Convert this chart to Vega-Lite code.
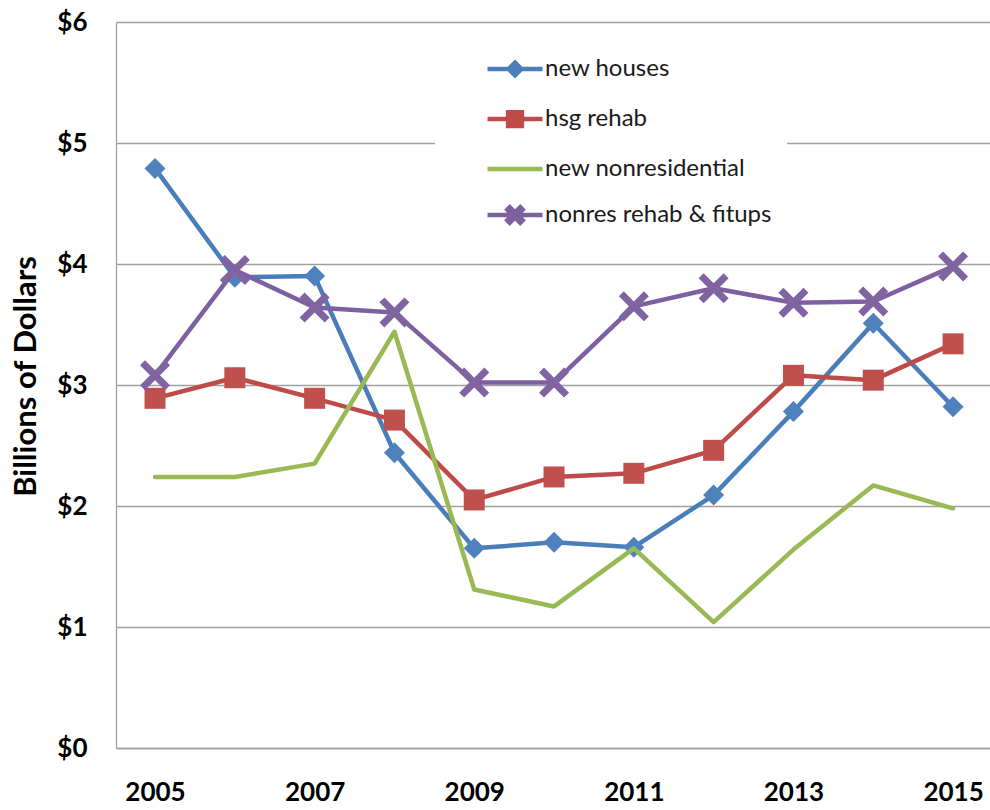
{
  "$schema": "https://vega.github.io/schema/vega-lite/v6.json",
  "width": 874,
  "height": 726,
  "autosize": {"type": "none"},
  "padding": {"left": 116, "top": 22, "right": 0, "bottom": 62},
  "background": "white",
  "config": {"view": {"stroke": null}, "font": "Lato"},
  "data": {
    "values": [
      {"year": 2005, "series": "new houses", "value": 4.79},
      {"year": 2006, "series": "new houses", "value": 3.89},
      {"year": 2007, "series": "new houses", "value": 3.90},
      {"year": 2008, "series": "new houses", "value": 2.44},
      {"year": 2009, "series": "new houses", "value": 1.65},
      {"year": 2010, "series": "new houses", "value": 1.70},
      {"year": 2011, "series": "new houses", "value": 1.66},
      {"year": 2012, "series": "new houses", "value": 2.09},
      {"year": 2013, "series": "new houses", "value": 2.78},
      {"year": 2014, "series": "new houses", "value": 3.51},
      {"year": 2015, "series": "new houses", "value": 2.82},
      {"year": 2005, "series": "hsg rehab", "value": 2.89},
      {"year": 2006, "series": "hsg rehab", "value": 3.06},
      {"year": 2007, "series": "hsg rehab", "value": 2.89},
      {"year": 2008, "series": "hsg rehab", "value": 2.71},
      {"year": 2009, "series": "hsg rehab", "value": 2.05},
      {"year": 2010, "series": "hsg rehab", "value": 2.24},
      {"year": 2011, "series": "hsg rehab", "value": 2.27},
      {"year": 2012, "series": "hsg rehab", "value": 2.46},
      {"year": 2013, "series": "hsg rehab", "value": 3.08},
      {"year": 2014, "series": "hsg rehab", "value": 3.04},
      {"year": 2015, "series": "hsg rehab", "value": 3.34},
      {"year": 2005, "series": "new nonresidential", "value": 2.24},
      {"year": 2006, "series": "new nonresidential", "value": 2.24},
      {"year": 2007, "series": "new nonresidential", "value": 2.35},
      {"year": 2008, "series": "new nonresidential", "value": 3.44},
      {"year": 2009, "series": "new nonresidential", "value": 1.31},
      {"year": 2010, "series": "new nonresidential", "value": 1.17},
      {"year": 2011, "series": "new nonresidential", "value": 1.65},
      {"year": 2012, "series": "new nonresidential", "value": 1.04},
      {"year": 2013, "series": "new nonresidential", "value": 1.64},
      {"year": 2014, "series": "new nonresidential", "value": 2.17},
      {"year": 2015, "series": "new nonresidential", "value": 1.98},
      {"year": 2005, "series": "nonres rehab & fitups", "value": 3.08},
      {"year": 2006, "series": "nonres rehab & fitups", "value": 3.95},
      {"year": 2007, "series": "nonres rehab & fitups", "value": 3.64},
      {"year": 2008, "series": "nonres rehab & fitups", "value": 3.60},
      {"year": 2009, "series": "nonres rehab & fitups", "value": 3.02},
      {"year": 2010, "series": "nonres rehab & fitups", "value": 3.02},
      {"year": 2011, "series": "nonres rehab & fitups", "value": 3.65},
      {"year": 2012, "series": "nonres rehab & fitups", "value": 3.80},
      {"year": 2013, "series": "nonres rehab & fitups", "value": 3.68},
      {"year": 2014, "series": "nonres rehab & fitups", "value": 3.69},
      {"year": 2015, "series": "nonres rehab & fitups", "value": 3.98}
    ]
  },
  "encoding": {
    "x": {
      "field": "year",
      "type": "quantitative",
      "scale": {"domain": [2004.511, 2015.463], "nice": false, "zero": false},
      "axis": {
        "values": [2005, 2007, 2009, 2011, 2013, 2015],
        "format": "d",
        "grid": false,
        "ticks": false,
        "tickSize": 0,
        "domainColor": "#A0A0A0",
        "domainWidth": 1.3,
        "labelFont": "Lato",
        "labelFontWeight": "bold",
        "labelFontSize": 26,
        "labelColor": "#000000",
        "labelPadding": 52,
        "labelBaseline": "alphabetic",
        "labelFlush": false,
        "title": null
      }
    },
    "y": {
      "field": "value",
      "type": "quantitative",
      "scale": {"domain": [0, 6], "nice": false},
      "axis": {
        "values": [0, 1, 2, 3, 4, 5, 6],
        "labelExpr": "'$' + datum.value",
        "grid": true,
        "gridColor": "#A0A0A0",
        "gridWidth": 1.3,
        "ticks": false,
        "tickSize": 0,
        "domainColor": "#A0A0A0",
        "domainWidth": 1.3,
        "labelFont": "Lato",
        "labelFontWeight": "bold",
        "labelFontSize": 26,
        "labelColor": "#000000",
        "labelPadding": 29,
        "labelBaseline": "middle",
        "labelFlush": false,
        "title": "Billions of Dollars",
        "titleFont": "Lato",
        "titleFontSize": 31,
        "titleFontWeight": "bold",
        "titleColor": "#000000",
        "titleAngle": 270,
        "titleAlign": "center",
        "titleBaseline": "alphabetic",
        "titleX": -81,
        "titleY": 354
      }
    }
  },
  "layer": [
    {
      "transform": [{"filter": "datum.series == 'new houses'"}],
      "mark": {"type": "line", "strokeWidth": 4.5, "strokeJoin": "round", "strokeCap": "round"},
      "encoding": {
        "color": {
          "field": "series",
          "type": "nominal",
          "scale": {
            "domain": ["new houses", "hsg rehab", "new nonresidential", "nonres rehab & fitups"],
            "range": ["#4A7EBB", "#BE4B48", "#98B954", "#7D60A0"]
          },
          "legend": {
            "title": null,
            "orient": "none",
            "legendX": 319,
            "legendY": 2,
            "fillColor": "white",
            "padding": 15,
            "symbolOffset": 35,
            "symbolSize": 3025,
            "symbolStrokeWidth": 4.5,
            "labelFont": "Lato",
            "labelFontSize": 24,
            "labelColor": "#1A1A1A",
            "labelOffset": 0,
            "labelLimit": 400,
            "rowPadding": 4,
            "encode": {
              "symbols": {
                "update": {
                  "shape": {"signal": "datum.value === 'new houses' ? 'M-1,0L1,0M0,-0.23L0.23,0L0,0.23L-0.23,0Z' : datum.value === 'hsg rehab' ? 'M-1,0L1,0M-0.25,-0.25L0.25,-0.25L0.25,0.25L-0.25,0.25Z' : datum.value === 'new nonresidential' ? 'M-1,0L1,0' : 'M-1,0L1,0M0.28,-0.19L0.09,0L0.28,0.19L0.19,0.28L0,0.09L-0.19,0.28L-0.28,0.19L-0.09,0L-0.28,-0.19L-0.19,-0.28L0,-0.09L0.19,-0.28Z'"},
                  "fill": {"scale": "color", "field": "value"},
                  "stroke": {"scale": "color", "field": "value"},
                  "strokeWidth": {"value": 4.5},
                  "opacity": {"value": 1}
                }
              }
            }
          }
        }
      }
    },
    {
      "transform": [{"filter": "datum.series == 'new houses'"}],
      "mark": {"type": "point", "shape": "diamond", "filled": true, "size": 441, "color": "#4F81BD", "opacity": 1, "strokeWidth": 0}
    },
    {
      "transform": [{"filter": "datum.series == 'hsg rehab'"}],
      "mark": {"type": "line", "strokeWidth": 4.5, "strokeJoin": "round", "strokeCap": "round"},
      "encoding": {"color": {"field": "series", "type": "nominal"}}
    },
    {
      "transform": [{"filter": "datum.series == 'hsg rehab'"}],
      "mark": {"type": "point", "shape": "square", "filled": true, "size": 441, "color": "#C0504D", "opacity": 1, "strokeWidth": 0}
    },
    {
      "transform": [{"filter": "datum.series == 'new nonresidential'"}],
      "mark": {"type": "line", "strokeWidth": 4.5, "strokeJoin": "round", "strokeCap": "round"},
      "encoding": {"color": {"field": "series", "type": "nominal"}}
    },
    {
      "transform": [{"filter": "datum.series == 'nonres rehab & fitups'"}],
      "mark": {"type": "line", "strokeWidth": 4.5, "strokeJoin": "round", "strokeCap": "round"},
      "encoding": {"color": {"field": "series", "type": "nominal"}}
    },
    {
      "transform": [{"filter": "datum.series == 'nonres rehab & fitups'"}],
      "mark": {"type": "point", "shape": "M1,-0.67L0.33,0L1,0.67L0.67,1L0,0.33L-0.67,1L-1,0.67L-0.33,0L-1,-0.67L-0.67,-1L0,-0.33L0.67,-1Z", "filled": true, "size": 900, "color": "#8064A2", "opacity": 1, "strokeWidth": 0}
    }
  ]
}
